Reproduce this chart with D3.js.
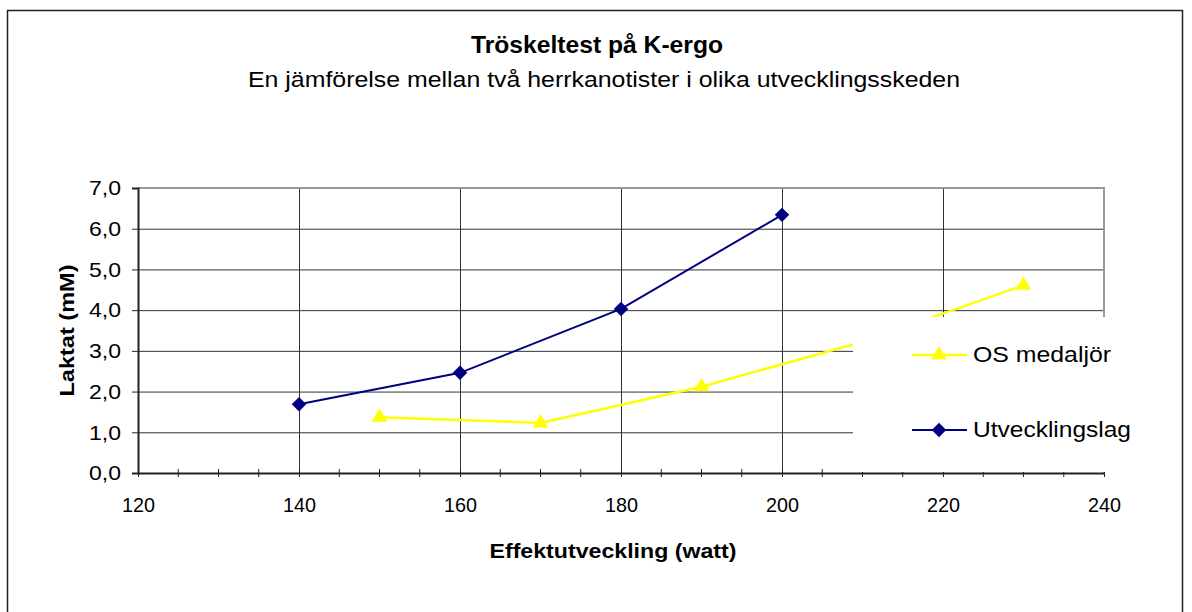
<!DOCTYPE html>
<html><head><meta charset="utf-8">
<script src="https://cdn.jsdelivr.net/npm/d3@7"></script>
<style>body{margin:0;background:#fff} text{font-family:Arial,"Liberation Sans",sans-serif;fill:#000}</style>
</head><body><svg id="c" width="1192" height="612"></svg>
<script>
const titleText = "Tröskeltest på K-ergo";
const subtitleText = "En jämförelse mellan två herrkanotister i olika utvecklingsskeden";
const xLabel = "Effektutveckling (watt)";
const yLabel = "Laktat (mM)";
const xTicks = [120, 140, 160, 180, 200, 220, 240];
const xMinor = [125,130,135,145,150,155,165,170,175,185,190,195,205,210,215,225,230,235];
const yTicks = [0, 1, 2, 3, 4, 5, 6, 7];
const seriesNames = ["OS medaljör", "Utvecklingslag"];
const osWatt = [150, 170, 190, 210, 230];
const osLaktat = [1.37, 1.23, 2.12, 3.22, 4.61];
const utvWatt = [140, 160, 180, 200];
const utvLaktat = [1.69, 2.46, 4.03, 6.34];

const svg = d3.select("#c");
const L = 138, R = 1104, T = 188, B = 473;
const x = d3.scaleLinear().domain([120, 240]).range([L, R]);
const y = d3.scaleLinear().domain([0, 7]).range([B, T]);
const fmt = v => d3.format(".1f")(v).replace(".", ",");

// outer frame
svg.append("rect").attr("x", 7.5).attr("y", 10.5).attr("width", 1175).attr("height", 700)
  .attr("fill", "none").attr("stroke", "#222").attr("stroke-width", 1.5);

function fitText(sel, len) {
  sel.attr("textLength", len).attr("lengthAdjust", "spacingAndGlyphs");
}

// titles
fitText(svg.append("text").attr("x", 597).attr("y", 53).attr("text-anchor", "middle")
  .style("font-size", "24px").style("font-weight", "bold").text(titleText), 252);
fitText(svg.append("text").attr("x", 604).attr("y", 87).attr("text-anchor", "middle")
  .style("font-size", "22px").text(subtitleText), 712);

// gridlines
const g = svg.append("g");
g.selectAll(".hg").data(yTicks.filter(d => d > 0 && d < 7)).join("line")
  .attr("x1", L).attr("x2", R).attr("y1", d => y(d) + 0.5).attr("y2", d => y(d) + 0.5)
  .attr("stroke", "#333").attr("stroke-width", 1);
g.selectAll(".vg").data(xTicks.filter(d => d > 120 && d < 240)).join("line")
  .attr("x1", d => x(d) + 0.5).attr("x2", d => x(d) + 0.5).attr("y1", T).attr("y2", B)
  .attr("stroke", "#333").attr("stroke-width", 1);

// plot border (top, right)
svg.append("path").attr("d", `M${L},${T} H${R} V${B}`).attr("fill", "none")
  .attr("stroke", "#999").attr("stroke-width", 2);

// y axis
const ya = svg.append("g").attr("transform", `translate(${L},0)`)
  .call(d3.axisLeft(y).tickValues(yTicks).tickFormat(fmt).tickSize(6).tickPadding(11));
ya.select(".domain").attr("stroke", "#222").attr("stroke-width", 2);
ya.selectAll(".tick line").attr("stroke", "#222");
ya.selectAll(".tick text").style("font-size", "21px")
  .style("font-family", "Arial, 'Liberation Sans', sans-serif").attr("fill", "#000")
  .attr("textLength", 32).attr("lengthAdjust", "spacingAndGlyphs");

// x axis
const xa = svg.append("g").attr("transform", `translate(0,${B})`)
  .call(d3.axisBottom(x).tickValues(xTicks).tickSize(4).tickSizeOuter(0).tickPadding(20));
xa.select(".domain").attr("stroke", "#222").attr("stroke-width", 2);
xa.selectAll(".tick line").attr("stroke", "#222").attr("y1", -4);
xa.selectAll(".tick text").style("font-size", "21px")
  .style("font-family", "Arial, 'Liberation Sans', sans-serif").attr("fill", "#000")
  .attr("textLength", 33).attr("lengthAdjust", "spacingAndGlyphs");
svg.append("g").selectAll("line").data(xMinor).join("line")
  .attr("x1", d => x(d)).attr("x2", d => x(d)).attr("y1", B - 4).attr("y2", B + 4)
  .attr("stroke", "#222").attr("stroke-width", 1);

// axis titles
fitText(svg.append("text").attr("x", 613).attr("y", 558).attr("text-anchor", "middle")
  .style("font-size", "21px").style("font-weight", "bold").text(xLabel), 247);
fitText(svg.append("text").attr("transform", `translate(74,${(T + B) / 2}) rotate(-90)`).attr("text-anchor", "middle")
  .style("font-size", "21px").style("font-weight", "bold").text(yLabel), 132);

// series
const line = d3.line().x(d => x(d[0])).y(d => y(d[1]));
const osData = osWatt.map((w, i) => [w, osLaktat[i]]);
const utvData = utvWatt.map((w, i) => [w, utvLaktat[i]]);
const yellow = "#FFFF00", navy = "#000080";
svg.append("path").datum(osData).attr("d", line).attr("fill", "none").attr("stroke", yellow).attr("stroke-width", 2.5);
svg.append("path").datum(utvData).attr("d", line).attr("fill", "none").attr("stroke", navy).attr("stroke-width", 2);
const tri = d3.symbol().type(d3.symbolTriangle).size(105);
const sq = d3.symbol().type(d3.symbolSquare).size(105);
svg.append("g").selectAll("path").data(osData).join("path")
  .attr("transform", d => `translate(${x(d[0])},${y(d[1])})`).attr("d", tri).attr("fill", yellow);
svg.append("g").selectAll("path").data(utvData).join("path")
  .attr("transform", d => `translate(${x(d[0])},${y(d[1])}) rotate(45)`).attr("d", sq).attr("fill", navy);

// legend (white box overlapping plot)
const lg = svg.append("g");
lg.append("rect").attr("x", 853).attr("y", 317).attr("width", 260).attr("height", 155).attr("fill", "#fff");
const legItems = [{name: seriesNames[0], color: yellow, sym: tri, rot: 0, sw: 2.5, cy: 355, w: 138},
                  {name: seriesNames[1], color: navy, sym: sq, rot: 45, sw: 2, cy: 430, w: 158}];
legItems.forEach(it => {
  lg.append("line").attr("x1", 912).attr("x2", 967).attr("y1", it.cy).attr("y2", it.cy)
    .attr("stroke", it.color).attr("stroke-width", it.sw);
  lg.append("path").attr("transform", `translate(939,${it.cy}) rotate(${it.rot})`).attr("d", it.sym).attr("fill", it.color);
  fitText(lg.append("text").attr("x", 973).attr("y", it.cy + 7).style("font-size", "22px").text(it.name), it.w);
});
</script></body></html>
